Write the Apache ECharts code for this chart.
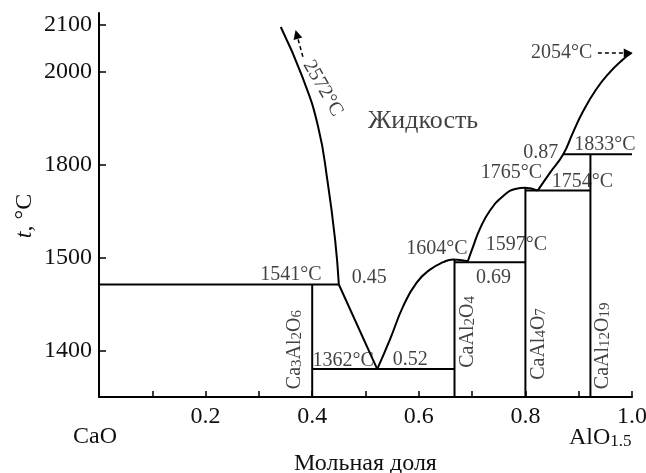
<!DOCTYPE html>
<html>
<head>
<meta charset="utf-8">
<script src="https://cdn.jsdelivr.net/npm/echarts@6/dist/echarts.min.js"></script>
<style>
  html, body { margin: 0; padding: 0; background: #fff; }
  #main { width: 646px; height: 473px; }
</style>
</head>
<body>
<div id="main"></div>
<script>
// Диаграмма CaO - AlO1.5. Шкала t в рисунке неравномерная, поэтому
// данные хранятся в "шкале рисунка" (100 ед. = шаг 1400..1500),
// а подписи оси переводятся через tickLabels.
var tickPos = [1400, 1500, 1600, 1700, 1750];
var tickLabels = ['1400', '1500', '1800', '2000', '2100'];
var xLabelValues = [0.2, 0.4, 0.6, 0.8, 1.0];

// линии ликвидуса
var liqLeft = [[0.341, 1748], [0.381, 1695], [0.411, 1641], [0.429, 1581], [0.443, 1519], [0.45, 1471]];
var liqEutLeft = [[0.45, 1471], [0.522, 1380]];
var liqEutRight = [[0.522, 1380], [0.546, 1412], [0.571, 1448], [0.596, 1473], [0.621, 1487],
    [0.646, 1495], [0.664, 1498], [0.692, 1496]];
var liqCA = [[0.692, 1496], [0.702, 1512], [0.714, 1530], [0.733, 1550], [0.758, 1566],
    [0.783, 1574], [0.799, 1575], [0.823, 1572]];
var liqCA2 = [[0.823, 1572], [0.846, 1591], [0.871, 1611], [0.889, 1634], [0.908, 1657],
    [0.933, 1681], [0.958, 1699], [0.983, 1713], [0.999, 1720]];

// соединения (вертикали)
var compounds = ['Ca{s|3}Al{s|2}O{s|6}', 'CaAl{s|2}O{s|4}', 'CaAl{s|4}O{s|7}', 'CaAl{s|12}O{s|19}'];
var compoundX = [0.4, 0.667, 0.8, 0.922];
var compoundTop = [1471, 1498, 1575, 1611];
var compoundLabelX = [0.3675, 0.692, 0.825, 0.945];
var compoundLabelY = [1401, 1420, 1407, 1405];

// изотермы (горизонтали)
var isoY = [1471, 1380, 1495, 1572, 1611];
var isoFrom = [0, 0.4, 0.667, 0.8, 0.871];
var isoTo = [0.45, 0.667, 0.8, 0.922, 1.0];

// подписи
var noteText = ['1541°C', '0.45', '1362°C', '0.52', '1604°C', '1597°C', '0.69',
    '1765°C', '0.87', '1833°C', '1754°C', '2054°C'];
var noteX = [0.36, 0.507, 0.458, 0.584, 0.634, 0.783, 0.74, 0.774, 0.829, 0.949, 0.907, 0.868];
var noteY = [1481, 1478, 1389, 1390, 1509, 1514, 1478, 1591, 1613, 1621, 1581, 1720];

var arrowLines = [
    [[0.3825, 1716], [0.371, 1740]],
    [[0.936, 1720], [0.993, 1720]]
];

var FONT = 'Liberation Serif';
var INK = '#111';

var myChart = echarts.init(document.getElementById('main'));

function lineSeries(data, smooth) {
    return {
        type: 'line',
        data: data,
        showSymbol: false,
        smooth: smooth ? 0.5 : false,
        lineStyle: { color: '#000', width: 2 },
        silent: true,
        z: 3
    };
}

var series = [
    lineSeries(liqLeft, true),
    lineSeries(liqEutLeft, false),
    lineSeries(liqEutRight, true),
    lineSeries(liqCA, true),
    lineSeries(liqCA2, true)
];

compoundX.forEach(function (x, i) {
    series.push(lineSeries([[x, 1350], [x, compoundTop[i]]], false));
});
isoY.forEach(function (y, i) {
    series.push(lineSeries([[isoFrom[i], y], [isoTo[i], y]], false));
});

// обычные подписи
series.push({
    type: 'scatter',
    symbolSize: 1,
    itemStyle: { color: 'transparent' },
    data: noteText.map(function (t, i) { return { value: [noteX[i], noteY[i]], name: t }; }),
    label: {
        show: true,
        position: 'inside',
        formatter: '{b}',
        color: INK,
        fontFamily: FONT,
        fontSize: 20
    },
    silent: true,
    z: 5
});

// Жидкость
series.push({
    type: 'scatter',
    symbolSize: 1,
    itemStyle: { color: 'transparent' },
    data: [{ value: [0.608, 1647], name: 'Жидкость' }],
    label: { show: true, position: 'inside', formatter: '{b}', color: INK, fontFamily: FONT, fontSize: 26 },
    silent: true
});

// 2572°C вдоль кривой
series.push({
    type: 'scatter',
    symbolSize: 1,
    itemStyle: { color: 'transparent' },
    data: [{ value: [0.42, 1682], name: '2572°C' }],
    label: { show: true, position: 'inside', rotate: -60, formatter: '{b}', color: INK, fontFamily: FONT, fontSize: 20 },
    silent: true
});

// формулы соединений
series.push({
    type: 'scatter',
    symbolSize: 1,
    itemStyle: { color: 'transparent' },
    data: compounds.map(function (t, i) { return { value: [compoundLabelX[i], compoundLabelY[i]], name: t }; }),
    label: {
        show: true,
        position: 'inside',
        rotate: 90,
        formatter: function (p) { return '{m|' + p.name.replace(/\{s\|(\d+)\}/g, '}{s|$1}{m|') + '}'; },
        rich: {
            m: { fontFamily: FONT, fontSize: 20, color: INK, lineHeight: 20, verticalAlign: 'top' },
            s: { fontFamily: FONT, fontSize: 15, color: INK, lineHeight: 15, verticalAlign: 'bottom', padding: [11, 0, 0, 0] }
        }
    },
    silent: true
});

// стрелки
series.push({
    type: 'lines',
    coordinateSystem: 'cartesian2d',
    symbol: ['none', 'triangle'],
    symbolSize: 9,
    lineStyle: { color: '#000', width: 1.5, type: [4, 3], opacity: 1 },
    data: arrowLines.map(function (c) { return { coords: c }; }),
    silent: true
});

var option = {
    animation: false,
    backgroundColor: '#fff',
    grid: { left: 99, right: 14, top: 13, bottom: 76, outerBoundsMode: 'none', containLabel: false },
    xAxis: {
        type: 'value',
        min: 0,
        max: 1,
        interval: 0.1,
        name: 'Мольная доля',
        nameLocation: 'middle',
        nameGap: 55,
        nameTextStyle: { fontFamily: FONT, fontSize: 24, color: INK },
        axisLine: { lineStyle: { color: '#000', width: 2 } },
        axisTick: { inside: true, length: 6, lineStyle: { color: '#000', width: 1.5 } },
        axisLabel: {
            customValues: xLabelValues,
            formatter: function (v) { return v.toFixed(1); },
            fontFamily: FONT, fontSize: 24, color: INK, margin: 8
        },
        splitLine: { show: false }
    },
    yAxis: {
        type: 'value',
        min: 1350,
        max: 1763,
        axisLine: { show: true, lineStyle: { color: '#000', width: 2 } },
        axisTick: { show: true, inside: true, length: 7, customValues: tickPos, lineStyle: { color: '#000', width: 1.5 } },
        axisLabel: {
            customValues: tickPos,
            formatter: function (v) {
                var i = tickPos.indexOf(v);
                return i >= 0 ? tickLabels[i] : '';
            },
            fontFamily: FONT, fontSize: 24, color: INK, margin: 7
        },
        splitLine: { show: false }
    },
    graphic: [
        {
            type: 'text', x: 25, y: 216, rotation: Math.PI / 2,
            style: {
                text: '{i|t}, °C',
                rich: { i: { fontStyle: 'italic', fontFamily: FONT, fontSize: 24, fill: INK } },
                fontFamily: FONT, fontSize: 24, fill: INK, align: 'center', verticalAlign: 'middle'
            }
        },
        {
            type: 'text', x: 95, y: 437,
            style: { text: 'CaO', fontFamily: FONT, fontSize: 24, fill: INK, align: 'center', verticalAlign: 'middle' }
        },
        {
            type: 'text', x: 569, y: 438,
            style: {
                text: '{m|AlO}{s|1.5}',
                rich: {
                    m: { fontFamily: FONT, fontSize: 24, fill: INK, lineHeight: 24, verticalAlign: 'top' },
                    s: { fontFamily: FONT, fontSize: 17, fill: INK, lineHeight: 17, verticalAlign: 'bottom', padding: [11, 0, 0, 0] }
                },
                align: 'left', verticalAlign: 'middle'
            }
        }
    ],
    series: series
};

myChart.setOption(option);
</script>
</body>
</html>
